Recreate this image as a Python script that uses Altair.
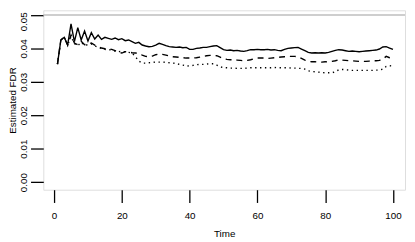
import altair as alt
import pandas as pd

time = list(range(1, 101))

solid = [
    0.0353, 0.0425, 0.0433, 0.0410, 0.0473, 0.0420, 0.0462, 0.0425, 0.0452, 0.0422,
    0.0447, 0.0428, 0.0440, 0.0427, 0.0433, 0.0430, 0.0427, 0.0431, 0.0426, 0.0429,
    0.0423, 0.0425, 0.0420, 0.0415, 0.0418, 0.0410, 0.0407, 0.0405, 0.0406, 0.0410,
    0.0415, 0.0412, 0.0408, 0.0405, 0.0404, 0.0403, 0.0404, 0.0402, 0.0403, 0.0397,
    0.0397, 0.0400, 0.0401, 0.0403, 0.0403, 0.0405, 0.0407, 0.0408, 0.0402, 0.0396,
    0.0394, 0.0395, 0.0393, 0.0394, 0.0392, 0.0391, 0.0393, 0.0396, 0.0396, 0.0397,
    0.0396, 0.0396, 0.0397, 0.0395, 0.0396, 0.0394, 0.0393, 0.0397, 0.0400, 0.0401,
    0.0402, 0.0403, 0.0398, 0.0393, 0.0388, 0.0386, 0.0387, 0.0386, 0.0387, 0.0386,
    0.0388, 0.0391, 0.0394, 0.0396, 0.0395, 0.0393, 0.0391, 0.0392, 0.0391, 0.0390,
    0.0391, 0.0392, 0.0393, 0.0394, 0.0395, 0.0398, 0.0404, 0.0405, 0.0401, 0.0397,
]

dashed = [
    0.0353, 0.0425, 0.0433, 0.0410, 0.0440, 0.0416, 0.0411, 0.0421, 0.0411, 0.0413,
    0.0416, 0.0410, 0.0406, 0.0401, 0.0399, 0.0398, 0.0397, 0.0393, 0.0388, 0.0386,
    0.0390, 0.0389, 0.0387, 0.0386, 0.0385, 0.0380, 0.0376, 0.0375, 0.0377, 0.0381,
    0.0383, 0.0382, 0.0380, 0.0377, 0.0375, 0.0374, 0.0373, 0.0372, 0.0371, 0.0371,
    0.0371, 0.0372, 0.0374, 0.0376, 0.0378, 0.0379, 0.0379, 0.0378, 0.0374, 0.0369,
    0.0367, 0.0366, 0.0366, 0.0365, 0.0364, 0.0363, 0.0364, 0.0366, 0.0369, 0.0371,
    0.0371, 0.0371, 0.0370, 0.0371, 0.0372, 0.0373, 0.0374, 0.0375, 0.0376, 0.0376,
    0.0376, 0.0375, 0.0370, 0.0365, 0.0361, 0.0360, 0.0360, 0.0359, 0.0359, 0.0360,
    0.0359, 0.0361, 0.0363, 0.0366, 0.0365, 0.0364, 0.0363, 0.0363, 0.0362, 0.0361,
    0.0361, 0.0361, 0.0362, 0.0363, 0.0363, 0.0364, 0.0368, 0.0376, 0.0372, 0.0369,
]

dotted = [
    0.0353, 0.0425, 0.0433, 0.0410, 0.0435, 0.0414, 0.0408, 0.0418, 0.0409, 0.0411,
    0.0413, 0.0407, 0.0404, 0.0399, 0.0397, 0.0396, 0.0395, 0.0392, 0.0390, 0.0391,
    0.0390, 0.0388, 0.0386, 0.0375, 0.0362, 0.0356, 0.0356, 0.0357, 0.0358, 0.0359,
    0.0359, 0.0359, 0.0358, 0.0357, 0.0356, 0.0355, 0.0352, 0.0350, 0.0347, 0.0348,
    0.0349, 0.0351, 0.0352, 0.0352, 0.0353, 0.0354, 0.0354, 0.0350, 0.0345, 0.0342,
    0.0342, 0.0341, 0.0341, 0.0340, 0.0340, 0.0340, 0.0341, 0.0342, 0.0342, 0.0342,
    0.0342, 0.0342, 0.0342, 0.0342, 0.0343, 0.0342, 0.0342, 0.0342, 0.0342, 0.0341,
    0.0341, 0.0340, 0.0340, 0.0338, 0.0333, 0.0331, 0.0330, 0.0329, 0.0328, 0.0327,
    0.0327, 0.0327, 0.0330, 0.0336, 0.0337, 0.0336, 0.0335, 0.0334, 0.0334, 0.0334,
    0.0334, 0.0334, 0.0334, 0.0334, 0.0335, 0.0335, 0.0338, 0.0346, 0.0348, 0.0347,
]

level = [0.05]
x_ticks = [0, 20, 40, 60, 80, 100]
y_ticks = [0.00, 0.01, 0.02, 0.03, 0.04, 0.05]

FONT = "Liberation Sans"

df = pd.DataFrame({"Time": time, "solid": solid, "dashed": dashed, "dotted": dotted})

xscale = alt.Scale(domain=[-3.18, 103.56], nice=False, zero=False)
yscale = alt.Scale(domain=[-0.00226, 0.05138], nice=False, zero=False)

xaxis = alt.Axis(values=x_ticks, title="Time", grid=False, domain=False,
                 tickSize=13, tickColor="black", tickWidth=1.3,
                 labelFont=FONT, labelFontSize=10, labelColor="black", labelPadding=8,
                 labelOverlap=False,
                 titleFont=FONT, titleFontSize=10, titleFontWeight="normal",
                 titleColor="black", titlePadding=9)
yaxis = alt.Axis(values=y_ticks, format=".2f", title="Estimated FDR", grid=False,
                 domain=False, tickSize=13, tickColor="black", tickWidth=1.3,
                 labelFont=FONT, labelFontSize=10, labelColor="black",
                 labelAngle=270, labelAlign="center", labelBaseline="bottom",
                 labelPadding=2, labelOverlap=False,
                 labelOffset={"condition": {"test": "datum.value >= 0.0499", "value": 6.5},
                              "value": 0},
                 titleFont=FONT, titleFontSize=10, titleFontWeight="normal",
                 titleColor="black", titleAngle=270, titleAlign="center",
                 titleBaseline="middle", titleX=-31, titleY=91.5)

base = alt.Chart(df)

hline = alt.Chart(pd.DataFrame({"y": level})).mark_rule(
    color="#bebebe", strokeWidth=1.6
).encode(y=alt.Y("y:Q", scale=yscale, axis=yaxis))

l_solid = base.mark_line(color="black", strokeWidth=1.4).encode(
    x=alt.X("Time:Q", scale=xscale, axis=xaxis),
    y=alt.Y("solid:Q", scale=yscale, axis=yaxis),
)
l_dashed = base.mark_line(color="black", strokeWidth=1.4, strokeDash=[6, 5]).encode(
    x=alt.X("Time:Q", scale=xscale, axis=xaxis),
    y=alt.Y("dashed:Q", scale=yscale, axis=yaxis),
)
l_dotted = base.mark_line(color="black", strokeWidth=1.4, strokeDash=[1.4, 3.6]).encode(
    x=alt.X("Time:Q", scale=xscale, axis=xaxis),
    y=alt.Y("dotted:Q", scale=yscale, axis=yaxis),
)

chart = alt.layer(hline, l_dotted, l_dashed, l_solid).properties(
    width=369, height=183,
    autosize=alt.AutoSizeParams(type="none"),
    padding={"left": 36, "top": 0, "right": 2, "bottom": 51},
).configure_view(stroke="black", strokeWidth=1.2).configure(background="white")

chart.save("out.html", embed_options={"renderer": "svg", "actions": False})
